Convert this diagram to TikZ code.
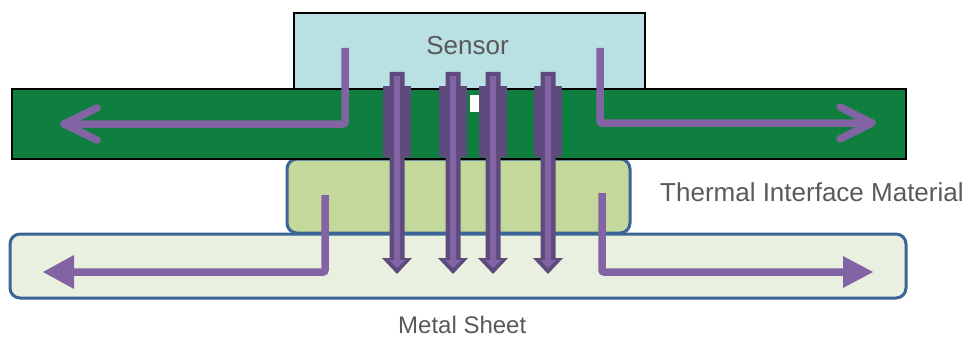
\documentclass[tikz,border=0pt]{standalone}
\usepackage{fontspec}
\setmainfont{Liberation Sans}
\definecolor{sensorfill}{HTML}{B9E0E3}
\definecolor{boardgreen}{HTML}{0F7F3F}
\definecolor{timfill}{HTML}{C5D89C}
\definecolor{metalfill}{HTML}{EAF0DF}
\definecolor{edgeblue}{HTML}{3C6496}
\definecolor{heatpurple}{HTML}{8264A5}
\definecolor{darkpurple}{HTML}{5F4A7E}
\definecolor{labelgray}{HTML}{595959}
\tikzset{
  layerbox/.style={line width=1.5pt, draw=black},
  padbox/.style={line width=3pt, draw=edgeblue, rounded corners=10pt},
  flow/.style={line width=7.5pt, draw=heatpurple, rounded corners=2pt},
  barb/.style={line width=7.5pt, draw=heatpurple, line cap=round, line join=round},
  lbl/.style={text=labelgray, font=\fontsize{26}{30}\selectfont, inner sep=0pt},
}
\begin{document}
\begin{tikzpicture}[x=1pt,y=-1pt]
\useasboundingbox (0,0) rectangle (972,337);
% layers
\draw[padbox, fill=metalfill] (10,234) rectangle (906,298);
\draw[padbox, fill=timfill] (287,159) rectangle (630,233);
\draw[layerbox, fill=sensorfill] (294,13) rectangle (645,89);
\draw[layerbox, fill=boardgreen] (12,89) rectangle (906,159);
\fill[white] (470,95) rectangle (483,112);
% labels
\node[lbl, anchor=base] (sensor) at (467.5,55) {Sensor};
\node[lbl, anchor=base west] (tim) at (660,201) {Thermal Interface Material};
\node[lbl, anchor=base west, font=\fontsize{24}{28}\selectfont] (metal) at (398,333) {Metal Sheet};
% lateral flows in board
\coordinate (tl0) at (345,48); \coordinate (tl1) at (345,124); \coordinate (tl2) at (66,124);
\draw[flow] (tl0) -- (tl1) -- (tl2);
\draw[barb] (97,108) -- (64,124) -- (97,140);
\coordinate (tr0) at (600,48); \coordinate (tr1) at (600,123); \coordinate (tr2) at (868,123);
\draw[flow] (tr0) -- (tr1) -- (tr2);
\draw[barb] (840,107) -- (872,123) -- (840,139);
% lateral flows in metal sheet
\coordinate (bl0) at (325,195); \coordinate (bl1) at (325,272); \coordinate (bl2) at (72,272);
\draw[flow] (bl0) -- (bl1) -- (bl2);
\fill[heatpurple] (43,272) -- (74,255) -- (74,289) -- cycle;
\coordinate (br0) at (602,193); \coordinate (br1) at (602,272); \coordinate (br2) at (845,272);
\draw[flow] (br0) -- (br1) -- (br2);
\fill[heatpurple] (873,272) -- (843,256) -- (843,288) -- cycle;
% vertical flows
\foreach \x in {397,453,493,548} {
  \fill[darkpurple] (\x-14,86) rectangle (\x+14,157);
  \fill[darkpurple] (\x-7.5,72) -- (\x+7.5,72) -- (\x+7.5,258) -- (\x+15,258) -- (\x,274) -- (\x-15,258) -- (\x-7.5,258) -- cycle;
  \fill[heatpurple] (\x-3,76) -- (\x+3,76) -- (\x+3,260) -- (\x+8,260) -- (\x,268) -- (\x-8,260) -- (\x-3,260) -- cycle;
}
\end{tikzpicture}
\end{document}
